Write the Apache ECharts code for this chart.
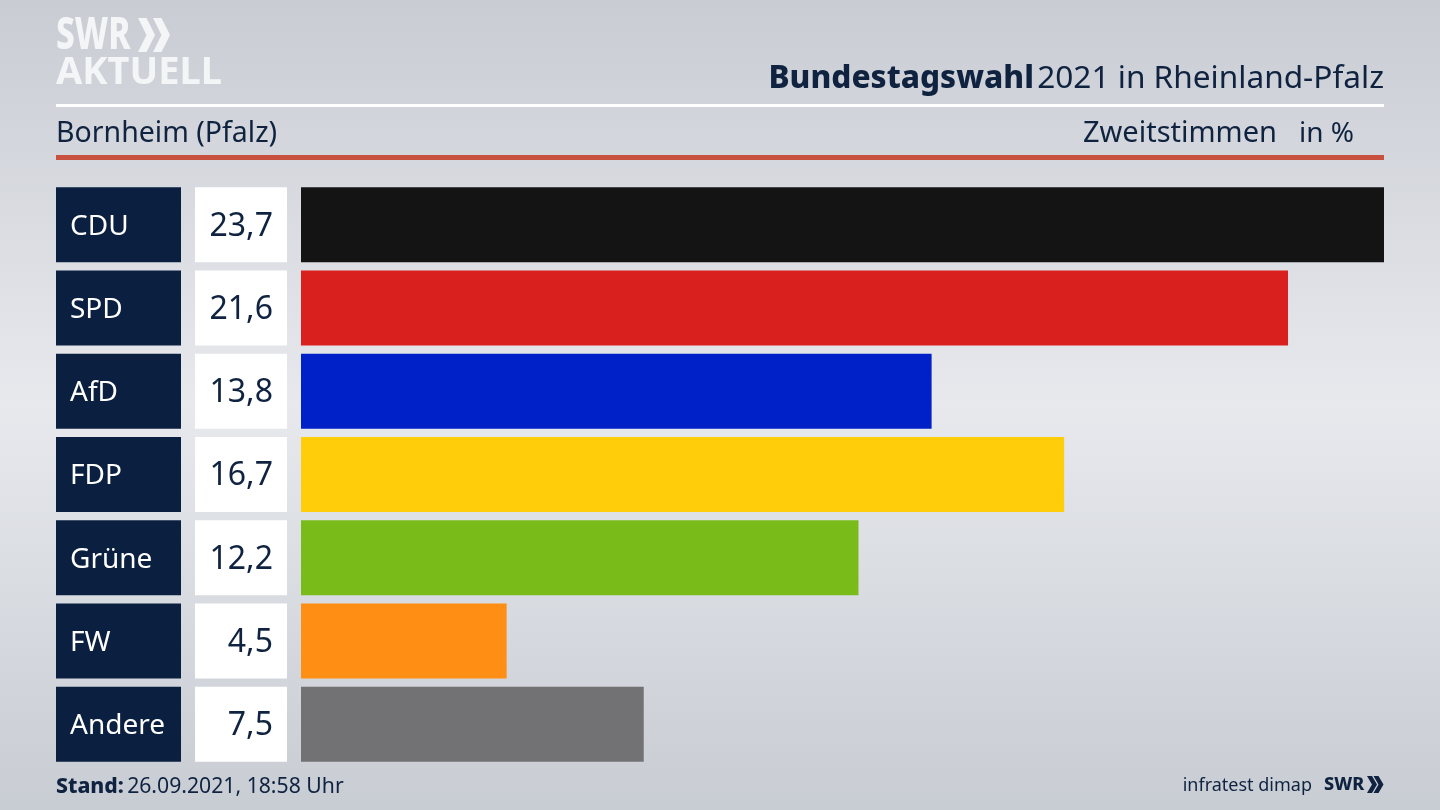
<!DOCTYPE html>
<html><head><meta charset="utf-8">
<style>html,body{margin:0;padding:0;width:1440px;height:810px;overflow:hidden}#c{width:1440px;height:810px}</style>
<script src="https://cdn.jsdelivr.net/npm/echarts@6/dist/echarts.min.js"></script>
</head><body><div id="c"></div>
<script>
const parties = ['CDU','SPD','AfD','FDP','Grüne','FW','Andere'];
const values = [23.7,21.6,13.8,16.7,12.2,4.5,7.5];
const valueLabels = ['23,7','21,6','13,8','16,7','12,2','4,5','7,5'];
const barColors = ['#141414','#d9201f','#0021c8','#ffcd0a','#79bc1a','#ff8f14','#727274'];
const FONT = '"Noto Sans", sans-serif';
const INK = '#0f2340';
const txt = (x,y,text,size,weight,align,fill) => ({type:'text',x,y,silent:true,style:{text,fontFamily:FONT,fontSize:size,fontWeight:weight,fill:fill||INK,align:align||'left',verticalAlign:'middle'}});
const rect = (x,y,width,height,fill) => ({type:'rect',silent:true,shape:{x,y,width,height},style:{fill}});
const chev = (x,y,w,h,fill) => ({type:'polygon',silent:true,shape:{points:[[x,y],[x+w*0.5,y],[x+w,y+h/2],[x+w*0.5,y+h],[x,y+h],[x+w*0.5,y+h/2]]},style:{fill}});
const chart = echarts.init(document.getElementById('c'),null,{renderer:'canvas'});
chart.setOption({
  animation:false,
  backgroundColor:{type:'linear',x:0,y:0,x2:0,y2:1,colorStops:[
    {offset:0,color:'#c9ccd3'},{offset:0.5,color:'#e7e9ed'},{offset:1,color:'#c8ccd3'}]},
  grid:{left:301,top:183,width:1083,height:582.75},
  xAxis:{type:'value',min:0,max:23.7,show:false},
  yAxis:{type:'category',data:parties,inverse:true,
    axisLine:{show:false},axisTick:{show:false},splitLine:{show:false},
    axisLabel:{margin:245,align:'left',
      formatter:(v,i)=>`{n|${v}}{g|}{v|${valueLabels[i]}}`,
      rich:{
        n:{width:111,height:71,lineHeight:71,padding:[4,0,0,14],backgroundColor:'#0b2040',color:'#fff',fontFamily:FONT,fontSize:28,align:'left'},
        g:{width:14,height:75},
        v:{width:78,height:71,lineHeight:71,padding:[4,14,0,0],backgroundColor:'#fff',color:INK,fontFamily:FONT,fontSize:32,align:'right'}
      }}},
  series:[{type:'bar',data:values.map((v,i)=>({value:v,itemStyle:{color:barColors[i]}})),barWidth:75,silent:true}],
  graphic:{elements:[
    rect(56,104,1328,3,'#ffffff'),
    rect(56,155,1328,5,'#c8503f'),
    Object.assign(txt(56,36,'SWR',44,800,'left','#f4f5f7'),{scaleX:0.76}),
    chev(138,18,17,34,'#f4f5f7'),
    chev(153,18,17,34,'#f4f5f7'),
    txt(56,73,'AKTUELL',38,700,'left','#f4f5f7'),
    {type:'text',silent:true,x:1384,y:79,style:{rich:{b:{fontFamily:FONT,fontSize:31.6,fontWeight:800,fill:INK},r:{fontFamily:FONT,fontSize:31.6,fill:INK}},text:'{b|Bundestagswahl} {r|2021 in Rheinland-Pfalz}',align:'right',verticalAlign:'middle'}},
    txt(56,134,'Bornheim (Pfalz)',28.5,400),
    txt(1277,134,'Zweitstimmen',29,400,'right'),
    txt(1354,134,'in %',28,400,'right'),
    {type:'text',silent:true,x:56,y:787,style:{rich:{b:{fontFamily:FONT,fontSize:21.2,fontWeight:800,fill:INK},r:{fontFamily:FONT,fontSize:21.2,fill:INK}},text:'{b|Stand:} {r|26.09.2021, 18:58 Uhr}',align:'left',verticalAlign:'middle'}},
    txt(1312,786,'infratest dimap',18,400,'right'),
    txt(1324,785,'SWR',18,800,'left'),
    chev(1367,776,10,17,INK),
    chev(1373.5,776,10,17,INK)
  ]}
});
</script></body></html>
